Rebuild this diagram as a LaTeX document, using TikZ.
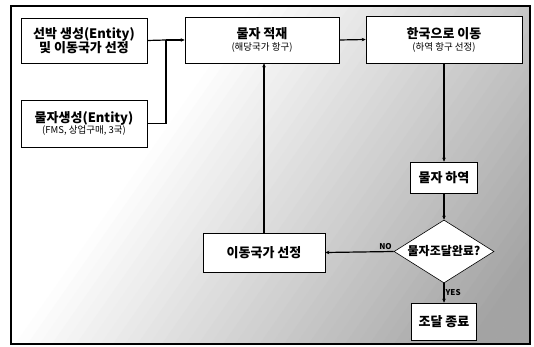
\documentclass[tikz,border=0pt]{standalone}
\usepackage{fontspec}
\setmainfont{Noto Sans CJK KR}
\newfontfamily\kr{Noto Sans CJK KR}
\usetikzlibrary{shapes.geometric,arrows.meta}
\tikzset{
  box/.style={draw=black, line width=0.6pt, fill=white, align=center, inner sep=0pt},
  big/.style={font=\kr\bfseries\fontsize{13}{16}\selectfont},
  conn/.style={line width=1.2pt, -{Stealth[length=4pt,width=3.5pt]}},
  lbl/.style={font=\kr\bfseries\fontsize{8}{9}\selectfont, inner sep=1pt}
}
\newcommand{\bigt}[1]{{\kr\bfseries\fontsize{13}{16}\selectfont #1}}
\newcommand{\smallt}[1]{{\kr\fontsize{9.5}{11}\selectfont #1}}
\begin{document}
\begin{tikzpicture}[x=1pt,y=-1pt]
\useasboundingbox (0,0) rectangle (534,347);
\begin{scope}
\clip (11,6) rectangle (530,344);
\fill[white] (11,6) rectangle (530,344);
\foreach \k in {0,...,44}{
  \pgfmathsetmacro{\ta}{200+\k*10}
  \pgfmathsetmacro{\tb}{\ta+10.5}
  \pgfmathsetmacro{\g}{min(\k*0.95,36)}
  \fill[black!\g] ({\ta*0.819+600*0.574},{\ta*0.574-600*0.819}) -- ({\ta*0.819-600*0.574},{\ta*0.574+600*0.819}) -- ({\tb*0.819-600*0.574},{\tb*0.574+600*0.819}) -- ({\tb*0.819+600*0.574},{\tb*0.574-600*0.819}) -- cycle;
}
\end{scope}
\draw[line width=1.4pt] (11,6) rectangle (530,344);

\node[box, big, minimum width=126pt, minimum height=45pt] (b1) at (84,40.5) {선박 생성(Entity)\\[-2pt]및 이동국가 선정};
\node[box, minimum width=126pt, minimum height=47pt] (b2) at (84,123.5) {\bigt{물자생성(Entity)}\\[-1pt]\smallt{(FMS, 상업구매, 3국)}};
\node[box, minimum width=154pt, minimum height=46pt] (b3) at (262,40) {\bigt{물자 적재}\\[0pt]\smallt{(해당국가 항구)}};
\node[box, minimum width=156pt, minimum height=47pt] (b4) at (444,39.5) {\bigt{한국으로 이동}\\[0pt]\smallt{(하역 항구 선정)}};
\node[box, big, minimum width=67pt, minimum height=31pt] (b5) at (444,177.5) {물자 하역};
\node[box, big, diamond, aspect=1.6, minimum width=100pt, minimum height=63pt, inner sep=0pt] (d) at (444,251.5) {\fontsize{12}{14}\selectfont 물자조달완료?};
\node[box, big, minimum width=65pt, minimum height=37pt] (b6) at (444,321.5) {조달 종료};
\node[box, big, minimum width=122pt, minimum height=39pt] (b7) at (264,252.5) {이동국가 선정};

\coordinate (j) at (166,40);
\draw[line width=1.2pt] (b1.east) -- (j);
\draw[line width=1.2pt] (b2.east) -- (b2.east -| j) -- (j);
\draw[conn] (j) -- (b3.west);
\draw[conn] (b3.east) -- (b4.west);
\draw[conn] (b4.south) -- (b5.north);
\draw[conn] (b5.south) -- (d.north);
\draw[conn] (d.west) -- node[lbl, above, pos=0.12] {NO} (b7.east);
\draw[conn] (d.south) -- node[lbl, right, pos=0.45] {YES} (b6.north);
\draw[conn] (b7.north) -- (b7.north |- b3.south);
\end{tikzpicture}
\end{document}
